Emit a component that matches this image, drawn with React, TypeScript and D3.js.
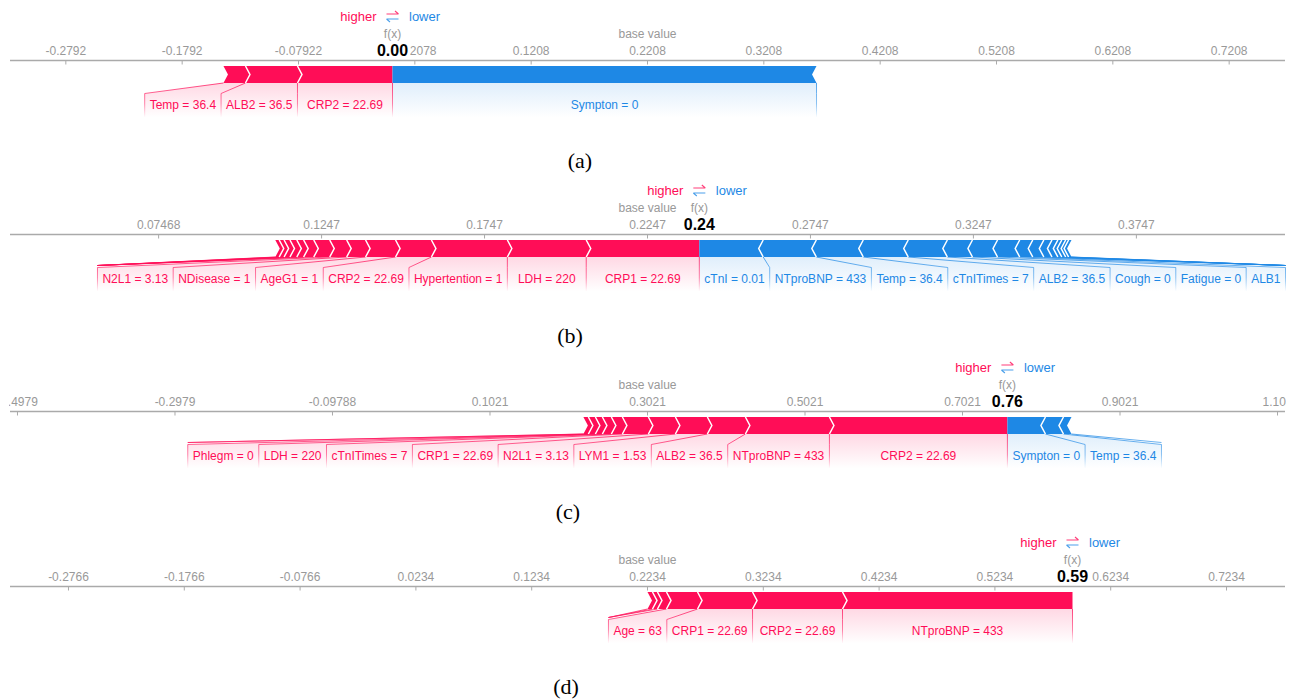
import React, { useMemo } from "react";
import * as d3 from "d3";

const RED = "#ff0d57";
const BLUE = "#1e88e5";

// Panel (a): higher-pushing features listed from f(x) outward, then lower-pushing ones
const baseValueA = 0.22078;
const axisHalfSpanA = 0.548;
const higherLabelsA = ["CRP2 = 22.69", "ALB2 = 36.5", "Temp = 36.4"];
const higherEffectsA = [0.0817, 0.0447, 0.0189];
const lowerLabelsA = ["Sympton = 0"];
const lowerEffectsA = [0.3645];

// Panel (b)
const baseValueB = 0.22468;
const axisHalfSpanB = 0.1956;
const higherLabelsB = [
  "CRP1 = 22.69", "LDH = 220", "Hypertention = 1", "CRP2 = 22.69", "AgeG1 = 1",
  "NDisease = 1", "N2L1 = 3.13", "", "", "", "", "", "", "",
];
const higherEffectsB = [
  0.0347, 0.0242, 0.0233, 0.011, 0.0092, 0.0058, 0.0052, 0.0049, 0.0031, 0.0021,
  0.0021, 0.0018, 0.0015, 0.0012,
];
const lowerLabelsB = [
  "cTnI = 0.01", "NTproBNP = 433", "Temp = 36.4", "cTnITimes = 7", "ALB2 = 36.5",
  "Cough = 0", "Fatigue = 0", "ALB1", "", "", "", "", "", "", "", "",
];
const lowerEffectsB = [
  0.0196, 0.0163, 0.0144, 0.0138, 0.012, 0.0077, 0.0077, 0.0068, 0.004, 0.0034,
  0.0025, 0.0018, 0.0012, 0.0012, 0.0009, 0.0009,
];

// Panel (c)
const baseValueC = 0.30212;
const axisHalfSpanC = 0.8095;
const higherLabelsC = [
  "CRP2 = 22.69", "NTproBNP = 433", "ALB2 = 36.5", "LYM1 = 1.53", "N2L1 = 3.13",
  "CRP1 = 22.69", "cTnITimes = 7", "LDH = 220", "Phlegm = 0", "", "",
];
const higherEffectsC = [
  0.226, 0.1067, 0.0483, 0.0406, 0.0343, 0.033, 0.014, 0.0114, 0.0089, 0.0089, 0.0063,
];
const lowerLabelsC = ["Sympton = 0", "Temp = 36.4", ""];
const lowerEffectsC = [0.0483, 0.0229, 0.0102];

// Panel (d)
const baseValueD = 0.2234;
const axisHalfSpanD = 0.5505;
const higherLabelsD = ["NTproBNP = 433", "CRP2 = 22.69", "CRP1 = 22.69", "Age = 63", "", "", ""];
const higherEffectsD = [0.1986, 0.0777, 0.0475, 0.0268, 0.0078, 0.0043, 0.0043];
const lowerLabelsD: string[] = [];
const lowerEffectsD: number[] = [];

const captions = ["(a)", "(b)", "(c)", "(d)"];

type PanelSpec = {
  base: number;
  halfSpan: number;
  posLabels: string[];
  posEffects: number[];
  negLabels: string[];
  negEffects: number[];
  axisY: number;
  caption: string;
  captionX: number;
  captionY: number;
};

const panels: PanelSpec[] = [
  {
    base: baseValueA, halfSpan: axisHalfSpanA,
    posLabels: higherLabelsA, posEffects: higherEffectsA,
    negLabels: lowerLabelsA, negEffects: lowerEffectsA,
    axisY: 60.5, caption: captions[0], captionX: 580, captionY: 168,
  },
  {
    base: baseValueB, halfSpan: axisHalfSpanB,
    posLabels: higherLabelsB, posEffects: higherEffectsB,
    negLabels: lowerLabelsB, negEffects: lowerEffectsB,
    axisY: 234.5, caption: captions[1], captionX: 570, captionY: 343,
  },
  {
    base: baseValueC, halfSpan: axisHalfSpanC,
    posLabels: higherLabelsC, posEffects: higherEffectsC,
    negLabels: lowerLabelsC, negEffects: lowerEffectsC,
    axisY: 411.5, caption: captions[2], captionX: 568, captionY: 519,
  },
  {
    base: baseValueD, halfSpan: axisHalfSpanD,
    posLabels: higherLabelsD, posEffects: higherEffectsD,
    negLabels: lowerLabelsD, negEffects: lowerEffectsD,
    axisY: 586.5, caption: captions[3], captionX: 566, captionY: 694,
  },
];

const SANS = '"Liberation Sans", Arial, Helvetica, sans-serif';
const LABEL_FONT = `12px ${SANS}`;
const X0 = 10;
const X1 = 1285;
const TIP = 4.5;

let measureCtx: CanvasRenderingContext2D | null = null;
function textWidth(s: string, font: string): number {
  if (!measureCtx) {
    const c = document.createElement("canvas");
    measureCtx = c.getContext("2d");
  }
  if (!measureCtx) return s.length * 6.5;
  measureCtx.font = font;
  return measureCtx.measureText(s).width;
}

const tickFmt = d3
  .formatLocale({ decimal: ".", thousands: ",", grouping: [3], currency: ["$", ""], minus: "-" })
  .format(",.4");
const outFmt = d3.format(".2f");

type Seg = { label: string; lo: number; hi: number; xl: number; xr: number; bl: number; br: number };

function ForcePanel({ p, idx }: { p: PanelSpec; idx: number }) {
  const A = p.axisY;
  const barTop = A + 5.5;
  const barBot = A + 22.5;
  const barMid = (barTop + barBot) / 2;
  const yS = A + 33;
  const yE = A + 57;

  const geo = useMemo(() => {
    const x = d3.scaleLinear().domain([p.base - p.halfSpan, p.base + p.halfSpan]).range([X0, X1]);
    const offset = d3.scaleLinear().domain([-p.halfSpan, p.halfSpan]).range([X0, X1]);
    const ticks = offset.ticks(10);
    const fx = p.base + d3.sum(p.posEffects) - d3.sum(p.negEffects);
    const fxPx = x(fx);

    // higher-pushing segments run leftward from f(x)
    let cur = fx;
    const red: Seg[] = p.posEffects.map((e, i) => {
      const hi = cur;
      const lo = cur - e;
      cur = lo;
      return { label: p.posLabels[i] || "", lo, hi, xl: x(lo), xr: x(hi), bl: 0, br: 0 };
    });
    let edge = fxPx;
    for (const s of red) {
      if (!s.label) {
        s.bl = s.br = edge;
        continue;
      }
      const w = textWidth(s.label, LABEL_FONT) + 10;
      let bl: number, br: number;
      if (w <= s.xr - s.xl) {
        bl = s.xl;
        br = s.xr;
      } else {
        const c = (s.xl + s.xr) / 2;
        bl = c - w / 2;
        br = c + w / 2;
      }
      if (br > edge) {
        bl -= br - edge;
        br = edge;
      }
      s.bl = bl;
      s.br = br;
      edge = bl;
    }

    // lower-pushing segments run rightward from f(x)
    cur = fx;
    const blue: Seg[] = p.negEffects.map((e, i) => {
      const lo = cur;
      const hi = cur + e;
      cur = hi;
      return { label: p.negLabels[i] || "", lo, hi, xl: x(lo), xr: x(hi), bl: 0, br: 0 };
    });
    edge = fxPx;
    for (const s of blue) {
      if (!s.label) {
        s.bl = s.br = edge;
        continue;
      }
      const w = textWidth(s.label, LABEL_FONT) + 10;
      let bl: number, br: number;
      if (w <= s.xr - s.xl) {
        bl = s.xl;
        br = s.xr;
      } else {
        const c = (s.xl + s.xr) / 2;
        bl = c - w / 2;
        br = c + w / 2;
      }
      if (bl < edge) {
        br += edge - bl;
        bl = edge;
      }
      s.bl = bl;
      s.br = br;
      edge = br;
    }
    return { x, offset, ticks, fx, fxPx, red, blue };
  }, [p]);

  const { x, offset, ticks, fx, fxPx, red, blue } = geo;
  const line = d3.line();

  const redLeft = red.length ? red[red.length - 1].xl : fxPx;
  const blueRight = blue.length ? blue[blue.length - 1].xr : fxPx;

  const redBar =
    red.length > 0
      ? line([
          [redLeft, barTop],
          [fxPx, barTop],
          [fxPx, barBot],
          [redLeft, barBot],
          [redLeft + TIP, barMid],
        ]) + "Z"
      : null;
  const blueBar =
    blue.length > 0
      ? line([
          [fxPx, barTop],
          [blueRight, barTop],
          [blueRight - TIP, barMid],
          [blueRight, barBot],
          [fxPx, barBot],
        ]) + "Z"
      : null;

  const bgRed = `bg-red-${idx}`;
  const bgBlue = `bg-blue-${idx}`;
  const lnRed = `ln-red-${idx}`;
  const lnBlue = `ln-blue-${idx}`;

  return (
    <g>
      <defs>
        <linearGradient id={bgRed} x1="0" y1="0" x2="0" y2="1">
          <stop offset="0" stopColor={RED} stopOpacity={0.16} />
          <stop offset="1" stopColor={RED} stopOpacity={0} />
        </linearGradient>
        <linearGradient id={bgBlue} x1="0" y1="0" x2="0" y2="1">
          <stop offset="0" stopColor={BLUE} stopOpacity={0.14} />
          <stop offset="1" stopColor={BLUE} stopOpacity={0} />
        </linearGradient>
        <linearGradient id={lnRed} gradientUnits="userSpaceOnUse" x1="0" y1={barBot} x2="0" y2={yE}>
          <stop offset="0" stopColor={RED} stopOpacity={0.75} />
          <stop offset="0.6" stopColor={RED} stopOpacity={0.5} />
          <stop offset="1" stopColor={RED} stopOpacity={0} />
        </linearGradient>
        <linearGradient id={lnBlue} gradientUnits="userSpaceOnUse" x1="0" y1={barBot} x2="0" y2={yE}>
          <stop offset="0" stopColor={BLUE} stopOpacity={0.75} />
          <stop offset="0.6" stopColor={BLUE} stopOpacity={0.5} />
          <stop offset="1" stopColor={BLUE} stopOpacity={0} />
        </linearGradient>
      </defs>

      {/* shaded label backings */}
      {red
        .filter((s) => s.label)
        .map((s, i) => (
          <path
            key={`rb${i}`}
            d={
              line([
                [s.xl, barBot],
                [s.xr, barBot],
                [s.br, yS],
                [s.br, yE],
                [s.bl, yE],
                [s.bl, yS],
              ]) + "Z"
            }
            fill={`url(#${bgRed})`}
          />
        ))}
      {blue
        .filter((s) => s.label)
        .map((s, i) => (
          <path
            key={`bb${i}`}
            d={
              line([
                [s.xl, barBot],
                [s.xr, barBot],
                [s.br, yS],
                [s.br, yE],
                [s.bl, yE],
                [s.bl, yS],
              ]) + "Z"
            }
            fill={`url(#${bgBlue})`}
          />
        ))}

      {/* label dividers */}
      {red.map((s, i) => (
        <path
          key={`rd${i}`}
          d={
            s.label
              ? line([
                  [s.xl, barBot],
                  [s.bl, yS],
                  [s.bl, yE],
                ])!
              : line([
                  [s.xl, barBot],
                  [s.bl, yS - 2],
                ])!
          }
          fill="none"
          stroke={`url(#${lnRed})`}
          strokeWidth={1}
        />
      ))}
      {blue.map((s, i) => (
        <path
          key={`bd${i}`}
          d={
            s.label
              ? line([
                  [s.xr, barBot],
                  [s.br, yS],
                  [s.br, yE],
                ])!
              : line([
                  [s.xr, barBot],
                  [s.br, yS - 2],
                ])!
          }
          fill="none"
          stroke={`url(#${lnBlue})`}
          strokeWidth={1}
        />
      ))}
      <path
        d={line([
          [fxPx, barBot],
          [fxPx, yE],
        ])!}
        fill="none"
        stroke={`url(#${red.length ? lnRed : lnBlue})`}
        strokeWidth={1}
      />

      {/* force bars */}
      {redBar && <path d={redBar} fill={RED} />}
      {blueBar && <path d={blueBar} fill={BLUE} />}
      {red.slice(0, -1).map((s, i) => (
        <path
          key={`rs${i}`}
          d={line([
            [s.xl, barTop],
            [s.xl + TIP, barMid],
            [s.xl, barBot],
          ])!}
          fill="none"
          stroke="#fff"
          strokeWidth={1.5}
        />
      ))}
      {blue.slice(0, -1).map((s, i) => (
        <path
          key={`bs${i}`}
          d={line([
            [s.xr, barTop],
            [s.xr - TIP, barMid],
            [s.xr, barBot],
          ])!}
          fill="none"
          stroke="#fff"
          strokeWidth={1.5}
        />
      ))}

      {/* feature labels */}
      {red
        .filter((s) => s.label)
        .map((s, i) => (
          <text key={`rl${i}`} x={(s.bl + s.br) / 2} y={A + 48.5} textAnchor="middle" fontSize={12} fill={RED}>
            {s.label}
          </text>
        ))}
      {blue
        .filter((s) => s.label)
        .map((s, i) => (
          <text key={`bl${i}`} x={(s.bl + s.br) / 2} y={A + 48.5} textAnchor="middle" fontSize={12} fill={BLUE}>
            {s.label}
          </text>
        ))}

      {/* axis */}
      <line x1={X0} x2={X1} y1={A} y2={A} stroke="#aaa" strokeWidth={1.5} />
      {ticks.map((t) => (
        <g key={`t${t}`}>
          <line x1={offset(t)} x2={offset(t)} y1={A} y2={A + 4} stroke="#aaa" strokeWidth={1} />
          <text x={offset(t)} y={A - 6} textAnchor="middle" fontSize={12} fill="#999">
            {tickFmt(p.base + t)}
          </text>
        </g>
      ))}

      {/* base value and output markers */}
      <text x={x(p.base)} y={A - 23} textAnchor="middle" fontSize={12} fill="#999">
        base value
      </text>
      <text x={fxPx} y={A - 23} textAnchor="middle" fontSize={12} fill="#999">
        f(x)
      </text>
      <text
        x={fxPx}
        y={A - 4.5}
        textAnchor="middle"
        fontSize={16}
        fontWeight="bold"
        fill="#000"
        stroke="#fff"
        strokeWidth={6}
        paintOrder="stroke"
        strokeLinejoin="round"
      >
        {outFmt(fx)}
      </text>

      {/* higher / lower legend */}
      <text x={fxPx - 16} y={A - 39.5} textAnchor="end" fontSize={13} fill={RED}>
        higher
      </text>
      <text x={fxPx + 16.5} y={A - 39.5} textAnchor="start" fontSize={13} fill={BLUE}>
        lower
      </text>
      <path
        d={`M${fxPx - 6},${A - 46.5}H${fxPx + 6}M${fxPx + 6},${A - 46.5}L${fxPx + 2.5},${A - 49.5}`}
        fill="none"
        stroke={RED}
        strokeWidth={1.1}
        opacity={0.8}
      />
      <path
        d={`M${fxPx + 6},${A - 41.5}H${fxPx - 6}M${fxPx - 6},${A - 41.5}L${fxPx - 2.5},${A - 38.5}`}
        fill="none"
        stroke={BLUE}
        strokeWidth={1.1}
        opacity={0.8}
      />
    </g>
  );
}

export default function App() {
  return (
    <svg
      width={1293}
      height={700}
      style={{ position: "absolute", left: 0, top: 0, background: "#fff" }}
      fontFamily={SANS}
    >
      <rect x={0} y={0} width={1293} height={700} fill="#fff" />
      <defs>
        <clipPath id="plot-clip">
          <rect x={9} y={0} width={1277} height={700} />
        </clipPath>
      </defs>
      <g clipPath="url(#plot-clip)">
        {panels.map((p, i) => (
          <ForcePanel key={i} p={p} idx={i} />
        ))}
      </g>
      {panels.map((p, i) => (
        <text
          key={`c${i}`}
          x={p.captionX}
          y={p.captionY}
          textAnchor="middle"
          fontSize={22}
          fontFamily='"Liberation Serif", "Times New Roman", serif'
          fill="#000"
        >
          {p.caption}
        </text>
      ))}
    </svg>
  );
}
